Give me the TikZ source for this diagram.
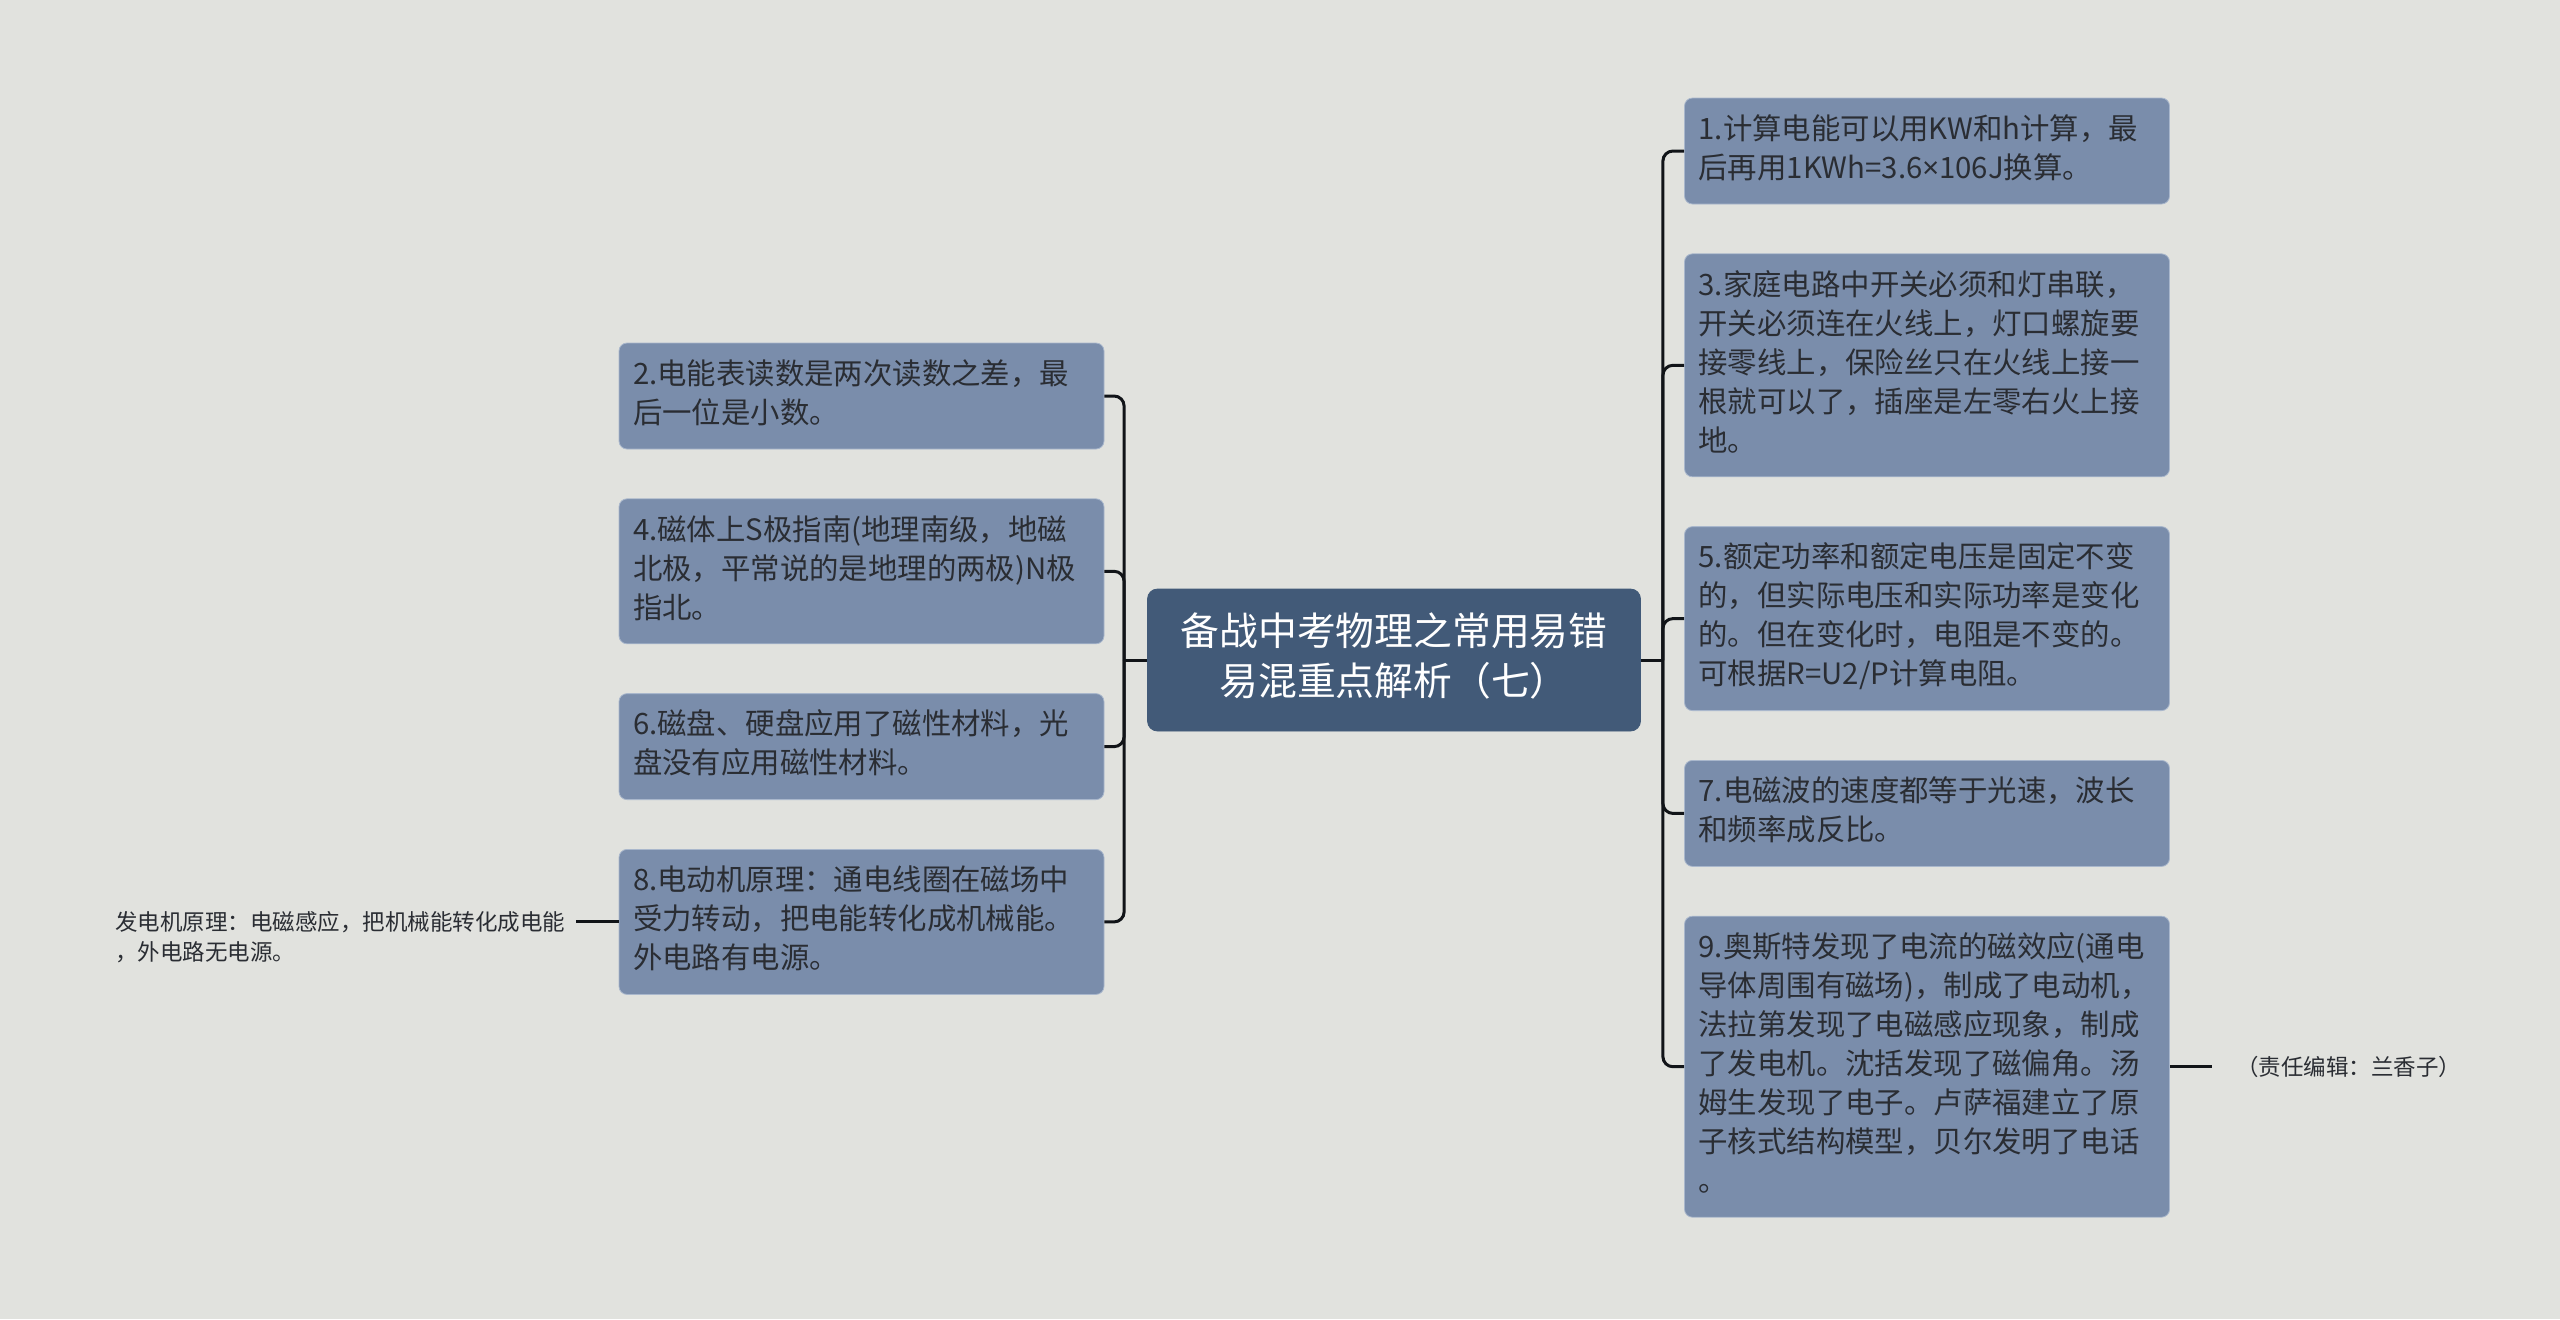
\documentclass[tikz,border=0pt]{standalone}
\usepackage{fontspec}
\setmainfont{Noto Sans CJK SC}
\newfontfamily\latinfont{Noto Sans}
\usetikzlibrary{positioning}
\definecolor{paper}{HTML}{E1E2DE}
\definecolor{leaffill}{HTML}{7A8DAB}
\definecolor{leafedge}{HTML}{A9B7CC}
\definecolor{rootfill}{HTML}{425A78}
\definecolor{wire}{HTML}{111418}
\definecolor{ink}{HTML}{2A2D33}
\tikzset{leaf/.style={draw=leafedge,fill=leaffill,rounded corners=4pt,text width=228.5pt,align=left,inner xsep=7pt,inner ysep=7pt,text=ink,font=\fontsize{14.7}{19.5}\selectfont,execute at begin node=\strut,execute at end node=\strut}, title/.style={draw=rootfill,fill=rootfill,rounded corners=5pt,text width=226.5pt,align=center,inner xsep=10pt,inner ysep=10.5pt,text=white,font=\fontsize{19.4}{25}\selectfont,execute at begin node=\strut,execute at end node=\strut}, note/.style={text=ink,align=left,inner xsep=5pt,inner ysep=0pt,font=\fontsize{11.25}{15}\selectfont}, link/.style={draw=wire,line width=1.5pt,rounded corners=5pt}}

\begin{document}
\begin{tikzpicture}[x=0.5pt,y=-0.5pt,node distance=24.5pt]
\path[use as bounding box,fill=paper] (0,0) rectangle (2560,1319);
\node[title] (title) at (1394,660) {备战中考物理之常用易错\\易混重点解析（七）};
% left branch
\node[leaf] (meter) at (861.5,396) {2.电能表读数是两次读数之差，最\\后一位是小数。};
\node[leaf,below=of meter] (magnet) {4.磁体上S极指南(地理南级，地磁\\北极，平常说的是地理的两极)N极\\指北。};
\node[leaf,below=of magnet] (disk) {6.磁盘、硬盘应用了磁性材料，光\\盘没有应用磁性材料。};
\node[leaf,below=of disk] (motor) {8.电动机原理：通电线圈在磁场中\\受力转动，把电能转化成机械能。\\外电路有电源。};
% right branch
\node[leaf] (kwh) at (1927,151) {1.计算电能可以用KW和h计算，最\\后再用1KWh=3.6{\latinfont ×}106J换算。};
\node[leaf,below=of kwh] (home) {3.家庭电路中开关必须和灯串联，\\开关必须连在火线上，灯口螺旋要\\接零线上，保险丝只在火线上接一\\根就可以了，插座是左零右火上接\\地。};
\node[leaf,below=of home] (rated) {5.额定功率和额定电压是固定不变\\的，但实际电压和实际功率是变化\\的。但在变化时，电阻是不变的。\\可根据R=U2/P计算电阻。};
\node[leaf,below=of rated] (wave) {7.电磁波的速度都等于光速，波长\\和频率成反比。};
\node[leaf,below=of wave] (history) {9.奥斯特发现了电流的磁效应(通电\\导体周围有磁场)，制成了电动机，\\法拉第发现了电磁感应现象，制成\\了发电机。沈括发现了磁偏角。汤\\姆生发现了电子。卢萨福建立了原\\子核式结构模型，贝尔发明了电话\\。};
% notes
\coordinate (gx) at ([xshift=-21.5pt]motor.west);
\coordinate (ex) at ([xshift=21pt]history.east);
\node[note,anchor=east] (gen) at ([yshift=-7.5pt]gx) {发电机原理：电磁感应，把机械能转化成电能\\，外电路无电源。};
\node[note,anchor=west] (editor) at ([xshift=7pt]ex) {（责任编辑：兰香子）};
% connectors
\coordinate (lj) at ([xshift=-11.5pt]title.west);
\coordinate (rj) at ([xshift=11pt]title.east);
\draw[link] (title.west) -- (lj);
\draw[link] (title.east) -- (rj);
\foreach \n in {meter,magnet,disk,motor} \draw[link] (lj) |- (\n.east);
\foreach \n in {kwh,home,rated,wave,history} \draw[link] (rj) |- (\n.west);
\draw[link] (motor.west) -- (gx);
\draw[link] (history.east) -- (ex);
\end{tikzpicture}
\end{document}
